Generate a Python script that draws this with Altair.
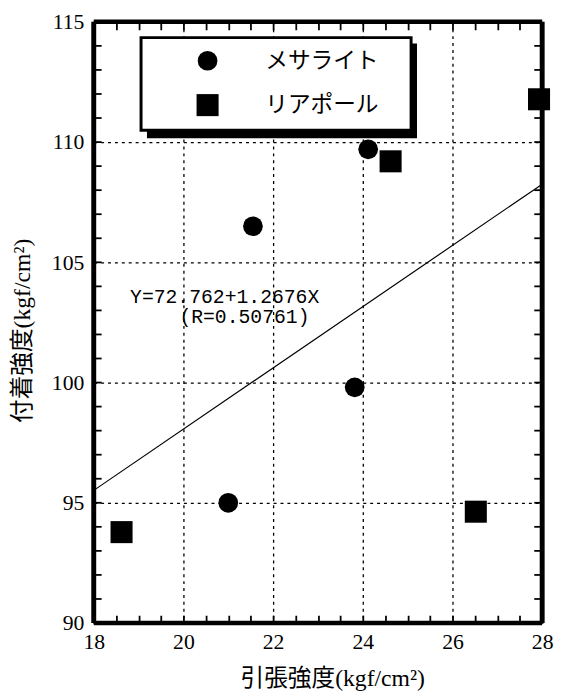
import altair as alt
import pandas as pd

# ---- data ----
series_names = ["メサライト", "リアポール"]
mesa_x = [21.0, 21.55, 24.12, 23.82]
mesa_y = [95.0, 106.5, 109.7, 99.8]
ria_x = [18.62, 24.62, 27.93, 26.52]
ria_y = [93.78, 109.2, 111.78, 94.63]

x_major = [18, 20, 22, 24, 26, 28]
y_major = [90, 95, 100, 105, 110, 115]
x_minor = [18, 18.5, 19, 19.5, 20, 20.5, 21, 21.5, 22, 22.5, 23, 23.5,
           24, 24.5, 25, 25.5, 26, 26.5, 27, 27.5, 28]
y_minor = [90, 91, 92, 93, 94, 95, 96, 97, 98, 99, 100, 101, 102, 103,
           104, 105, 106, 107, 108, 109, 110, 111, 112, 113, 114, 115]
x_edges = [18, 28]
y_edges = [90, 115]

note_text = ["Y=72.762+1.2676X", "(R=0.50761)"]
note_x = [18.81, 19.91]
note_y = [103.55, 102.72]

x_title = "引張強度(kgf/cm²)"
y_title = "付着強度(kgf/cm²)"

W, H = 455, 610
TICK = 8
FONT_MIX = "Liberation Serif, Noto Sans CJK JP"

df = pd.DataFrame({
    "x": mesa_x + ria_x,
    "y": mesa_y + ria_y,
    "series": [series_names[0]] * len(mesa_x) + [series_names[1]] * len(ria_x),
})
notes = pd.DataFrame({"x": note_x, "y": note_y, "label": note_text})
yminor_df = pd.DataFrame({"yv": y_minor})
xedge_df = pd.DataFrame({"v": x_edges})
yedge_df = pd.DataFrame({"v": y_edges})
one = pd.DataFrame({"k": [0]})

xs = alt.Scale(domain=[18, 28], nice=False, zero=False)
ys = alt.Scale(domain=[90, 115], nice=False, zero=False)

legend = alt.Legend(
    title=None, orient="none", legendX=50, legendY=12, direction="vertical",
    padding=16, rowPadding=21, symbolOffset=38, labelOffset=47,
    labelFont="Noto Sans CJK JP", labelFontSize=23, labelColor="black",
    labelBaseline="middle", symbolFillColor="black", symbolStrokeColor="black",
    symbolOpacity=1, symbolStrokeWidth=0, labelLimit=400,
)

points = alt.Chart(df).mark_point(filled=True, opacity=1, color="black").encode(
    x=alt.X("x:Q", scale=xs, axis=alt.Axis(
        orient="bottom", values=x_major, format="d", grid=True,
        gridColor="black", gridDash=[3, 4], gridWidth=1.3, ticks=False,
        domain=False, labelFont="Liberation Serif", labelFontSize=22,
        labelColor="black", labelPadding=9, labelFlush=False,
        title=x_title, titleFont=FONT_MIX, titleFontSize=24,
        titleFontWeight="normal", titleColor="black", titleX=242, titleY=56,
        titleAlign="center", titleBaseline="middle")),
    y=alt.Y("y:Q", scale=ys, axis=alt.Axis(
        orient="left", values=y_major, format="d", grid=True,
        gridColor="black", gridDash=[3, 4], gridWidth=1.3, ticks=False,
        domain=False, labelFont="Liberation Serif", labelFontSize=22,
        labelColor="black", labelPadding=10, labelFlush=False,
        title=y_title, titleFont=FONT_MIX, titleFontSize=24,
        titleFontWeight="normal", titleColor="black", titleAngle=270,
        titleX=-72, titleY=313, titleAlign="center", titleBaseline="middle")),
    shape=alt.Shape("series:N", scale=alt.Scale(domain=series_names, range=["circle", "square"]), legend=legend),
    size=alt.Size("series:N", scale=alt.Scale(domain=series_names, range=[400, 500]), legend=legend),
)

# x minor ticks (top and bottom, pointing inward): dashed grid of a second x axis
line = alt.Chart(df).transform_regression("x", "y", extent=[18, 28]).mark_line(
    color="black", strokeWidth=1.2).encode(
    x=alt.X("x:Q", scale=xs, axis=alt.Axis(
        orient="top", values=x_minor, labels=False, ticks=False, domain=False,
        grid=True, gridColor="black", gridWidth=1.8, gridOpacity=1,
        gridDash=[TICK, H - 2 * TICK, TICK], title=None)),
    y=alt.Y("y:Q", scale=ys, axis=None),
)

# y minor ticks (left and right, pointing inward): short rules
ticks_left = alt.Chart(yminor_df).mark_rule(color="black", strokeWidth=1.8).encode(
    y=alt.Y("yv:Q", scale=ys, axis=None), x=alt.value(0), x2=alt.value(TICK))
ticks_right = alt.Chart(yminor_df).mark_rule(color="black", strokeWidth=1.8).encode(
    y=alt.Y("yv:Q", scale=ys, axis=None), x=alt.value(W - TICK), x2=alt.value(W))

text = alt.Chart(notes).mark_text(
    align="left", baseline="middle", font="Liberation Mono", fontSize=20, color="black").encode(
    x=alt.X("x:Q", scale=xs, axis=None),
    y=alt.Y("y:Q", scale=ys, axis=None),
    text="label:N",
)

# heavy frame
frame_h = alt.Chart(yedge_df).mark_rule(color="black", strokeWidth=4.5).encode(
    y=alt.Y("v:Q", scale=ys, axis=None))
frame_v = alt.Chart(xedge_df).mark_rule(color="black", strokeWidth=5).encode(
    x=alt.X("v:Q", scale=xs, axis=None))

# legend box with drop shadow (decoration)
shadow = alt.Chart(one).mark_rect(color="black").encode(
    x=alt.value(54), x2=alt.value(328), y=alt.value(22), y2=alt.value(118))
box = alt.Chart(one).mark_rect(fill="white", stroke="black", strokeWidth=3).encode(
    x=alt.value(48), x2=alt.value(322), y=alt.value(16), y2=alt.value(110))

chart = alt.layer(
    shadow, box, line, text, points, frame_h, frame_v, ticks_left, ticks_right,
).resolve_axis(
    x="independent", y="independent"
).properties(
    width=W, height=H,
    autosize=alt.AutoSizeParams(type="none"),
    padding={"left": 87, "top": 9, "right": 12, "bottom": 69},
).configure_view(strokeWidth=0)

chart.save("out.html", embed_options={"renderer": "svg", "actions": False})
